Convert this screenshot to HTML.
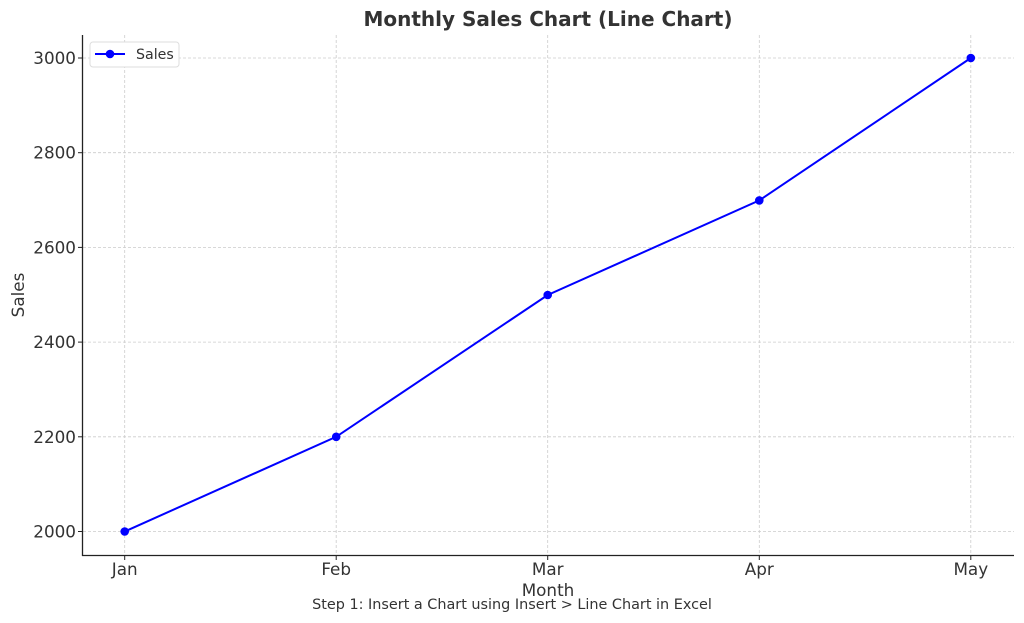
<!DOCTYPE html>
<html><head><style>body{margin:0;background:#fff}svg{display:block}</style></head><body>
<svg width="1024" height="623" xmlns="http://www.w3.org/2000/svg" font-family="DejaVu Sans, Liberation Sans, sans-serif">
<g stroke="#ccc" stroke-width="0.8" stroke-dasharray="3,2">
<line x1="124.7" y1="35" x2="124.7" y2="555"/><line x1="336.2" y1="35" x2="336.2" y2="555"/><line x1="547.7" y1="35" x2="547.7" y2="555"/><line x1="759.3" y1="35" x2="759.3" y2="555"/><line x1="970.8" y1="35" x2="970.8" y2="555"/>
<line x1="83" y1="531.5" x2="1014" y2="531.5"/><line x1="83" y1="436.8" x2="1014" y2="436.8"/><line x1="83" y1="342.1" x2="1014" y2="342.1"/><line x1="83" y1="247.4" x2="1014" y2="247.4"/><line x1="83" y1="152.7" x2="1014" y2="152.7"/><line x1="83" y1="58" x2="1014" y2="58"/>
</g>
<g stroke="#222" stroke-width="1.3"><line x1="82.5" y1="35" x2="82.5" y2="556"/><line x1="82" y1="555.5" x2="1014" y2="555.5"/>
<g stroke-width="1"><line x1="78" y1="531.5" x2="82" y2="531.5"/><line x1="78" y1="436.8" x2="82" y2="436.8"/><line x1="78" y1="342.1" x2="82" y2="342.1"/><line x1="78" y1="247.4" x2="82" y2="247.4"/><line x1="78" y1="152.7" x2="82" y2="152.7"/><line x1="78" y1="58" x2="82" y2="58"/>
<line x1="124.7" y1="556" x2="124.7" y2="560"/><line x1="336.2" y1="556" x2="336.2" y2="560"/><line x1="547.7" y1="556" x2="547.7" y2="560"/><line x1="759.3" y1="556" x2="759.3" y2="560"/><line x1="970.8" y1="556" x2="970.8" y2="560"/></g></g>
<g font-size="16.8" fill="#333" text-anchor="end"><text x="76" y="537.5">2000</text><text x="76" y="442.8">2200</text><text x="76" y="348">2400</text><text x="76" y="253.4">2600</text><text x="76" y="158.7">2800</text><text x="76" y="64">3000</text></g>
<g font-size="16.8" fill="#333" text-anchor="middle"><text x="124.7" y="575">Jan</text><text x="336.2" y="575">Feb</text><text x="547.7" y="575">Mar</text><text x="759.3" y="575">Apr</text><text x="970.8" y="575">May</text>
<text x="548" y="596">Month</text><text transform="translate(24,295) rotate(-90)">Sales</text>
<text x="548" y="26" font-size="20" font-weight="bold">Monthly Sales Chart (Line Chart)</text>
<text x="512" y="609" font-size="14.4">Step 1: Insert a Chart using Insert &gt; Line Chart in Excel</text></g>
<polyline points="124.7,531.5 336.2,436.8 547.7,295 759.3,200.4 970.8,58" fill="none" stroke="#0000ff" stroke-width="2"/>
<g fill="#0000ff"><circle cx="124.7" cy="531.5" r="4.3"/><circle cx="336.2" cy="436.8" r="4.3"/><circle cx="547.7" cy="295" r="4.3"/><circle cx="759.3" cy="200.4" r="4.3"/><circle cx="970.8" cy="58" r="4.3"/></g>
<rect x="90" y="42" width="89" height="25" rx="3" fill="#fff" stroke="#ddd"/>
<line x1="95" y1="54" x2="125" y2="54" stroke="#0000ff" stroke-width="2"/><circle cx="110" cy="54" r="4.3" fill="#0000ff"/>
<text x="136" y="59" font-size="14.2" fill="#333">Sales</text>
</svg>
</body></html>
